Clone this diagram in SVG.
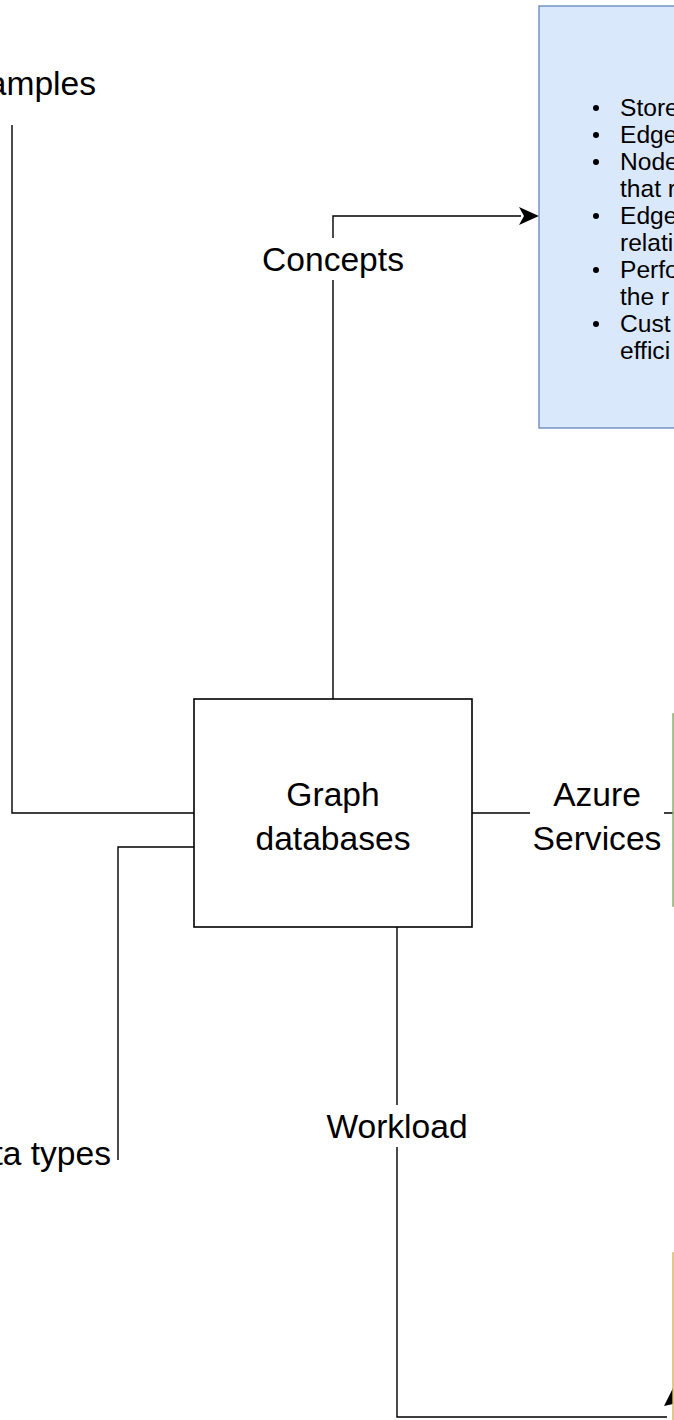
<svg xmlns="http://www.w3.org/2000/svg" width="674" height="1420" viewBox="0 0 674 1420">
<style>
.t{font-family:"Liberation Sans",Arial,sans-serif;fill:#000}
.lbl{font-size:33.6px}
.bul{font-size:24.6px}
.edge{fill:none;stroke:#000;stroke-width:1.4}
</style>
<rect x="0" y="0" width="674" height="1420" fill="#fff"/>
<g id="connectors">
<polyline class="edge" points="194,813 12,813 12,125"/>
<polyline class="edge" points="194,847 118,847 118,1160"/>
<polyline class="edge" points="333,699 333,216 521,216"/>
<path d="M519,207 L539,216 L519,225 L524,216 Z" fill="#000"/>
<polyline class="edge" points="472,813 673,813"/>
<polyline class="edge" points="397,927 397,1417 667,1417"/>
<path d="M664,1406 L673,1388 L673,1404 Z" fill="#000"/>
<rect x="253" y="238" width="160" height="42" fill="#fff"/>
<rect x="530" y="782" width="134" height="80" fill="#fff"/>
<rect x="340" y="1105" width="114" height="42" fill="#fff"/>
<text class="t lbl" x="333" y="271" text-anchor="middle">Concepts</text>
<text class="t lbl" x="597" y="806" text-anchor="middle">Azure</text>
<text class="t lbl" x="597" y="850" text-anchor="middle">Services</text>
<text class="t lbl" x="397" y="1138" text-anchor="middle">Workload</text>
</g>
<g id="examples">
<text class="t lbl" x="96" y="95" text-anchor="end">Examples</text>
</g>
<g id="datatypes">
<text class="t lbl" x="111" y="1165" text-anchor="end">Data types</text>
</g>
<g id="graphdb">
<rect x="194" y="699" width="278" height="228" fill="#fff" stroke="#000" stroke-width="1.6"/>
<text class="t lbl" x="333" y="806" text-anchor="middle">Graph</text>
<text class="t lbl" x="333" y="850" text-anchor="middle">databases</text>
</g>
<g id="concepts">
<rect x="539" y="6" width="200" height="422" fill="#dae8fc" stroke="#6c8ebf" stroke-width="1.4"/>
<g class="t bul">
<circle cx="596" cy="108" r="3"/><text x="620" y="116">Store</text>
<circle cx="596" cy="135" r="3"/><text x="620" y="143">Edge</text>
<circle cx="596" cy="162" r="3"/><text x="620" y="170">Node</text>
<text x="620" y="197">that r</text>
<circle cx="596" cy="216" r="3"/><text x="620" y="224">Edge</text>
<text x="620" y="251">relati</text>
<circle cx="596" cy="270" r="3"/><text x="620" y="278">Perfo</text>
<text x="620" y="305">the r</text>
<circle cx="596" cy="324" r="3"/><text x="620" y="332">Cust</text>
<text x="620" y="359">effici</text>
</g>
</g>
<g id="azure">
<rect x="673" y="714" width="100" height="192" fill="#d5e8d4" stroke="#82b366" stroke-width="1.4"/>
</g>
<g id="workload">
<rect x="673" y="1253" width="100" height="200" fill="#fff2cc" stroke="#d6b656" stroke-width="1.4"/>
</g>
</svg>
